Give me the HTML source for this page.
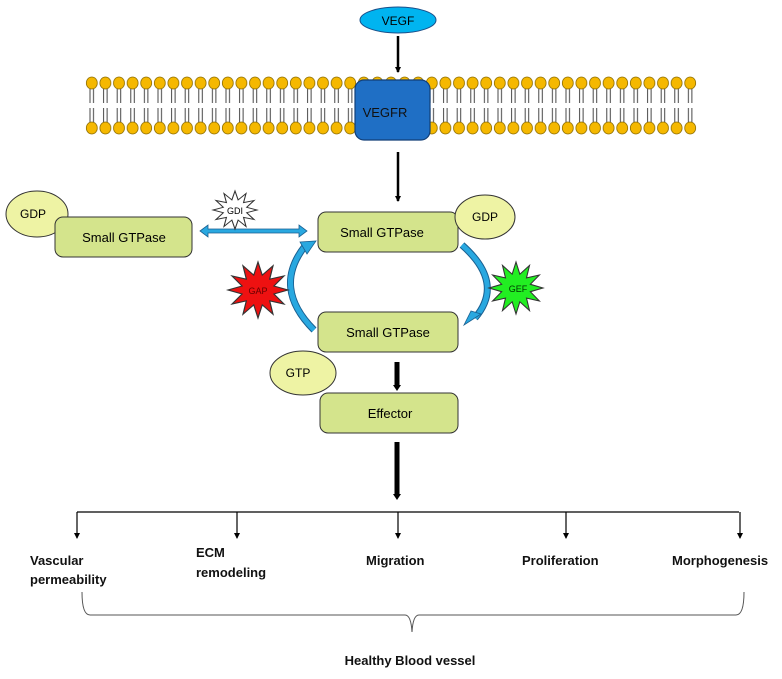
<!DOCTYPE html>
<html><head><style>
html,body{margin:0;padding:0;background:#fff;}
svg{display:block;font-family:"Liberation Sans",sans-serif;}
</style></head><body>
<svg width="782" height="679" viewBox="0 0 782 679" xmlns="http://www.w3.org/2000/svg">
<defs>
<pattern id="lipT" x="85" y="75" width="13.6" height="30" patternUnits="userSpaceOnUse">
<path d="M5 12 L5 28 M8.5 12 L8.5 28" stroke="#333" stroke-width="0.9" fill="none"/>
<ellipse cx="6.8" cy="8" rx="5.5" ry="6" fill="#f5b800" stroke="#8a6a00" stroke-width="0.8"/>
</pattern>
<pattern id="lipB" x="85" y="105" width="13.6" height="30" patternUnits="userSpaceOnUse">
<path d="M5 3 L5 18 M8.5 3 L8.5 18" stroke="#333" stroke-width="0.9" fill="none"/>
<ellipse cx="6.8" cy="23" rx="5.5" ry="6" fill="#f5b800" stroke="#8a6a00" stroke-width="0.8"/>
</pattern>
<polygon id="star" points="1,0 .531,.142 .866,.5 .389,.389 .5,.866 .142,.531 0,1 -.142,.531 -.5,.866 -.389,.389 -.866,.5 -.531,.142 -1,0 -.531,-.142 -.866,-.5 -.389,-.389 -.5,-.866 -.142,-.531 0,-1 .142,-.531 .5,-.866 .389,-.389 .866,-.5 .531,-.142"/>
<marker id="ah" markerWidth="6" markerHeight="6" refX="5" refY="3" orient="auto" markerUnits="userSpaceOnUse"><path d="M0,0 L6,3 L0,6z" fill="#000"/></marker>
</defs>

<!-- VEGF -->
<ellipse cx="398" cy="20" rx="38" ry="13" fill="#00b4f0" stroke="#1a4f8a" stroke-width="1"/>
<text x="398" y="25" font-size="12" text-anchor="middle">VEGF</text>
<line x1="398" y1="36" x2="398" y2="72" stroke="#000" stroke-width="2.5" marker-end="url(#ah)"/>

<!-- membrane -->
<rect x="85" y="75" width="612" height="30" fill="url(#lipT)"/>
<rect x="85" y="105" width="612" height="30" fill="url(#lipB)"/>
<rect x="355" y="80" width="75" height="60" rx="9" fill="#1f6fc5" stroke="#123f78" stroke-width="1.2"/>
<text x="385" y="117" font-size="13" text-anchor="middle" fill="#111">VEGFR</text>
<line x1="398" y1="152" x2="398" y2="201" stroke="#000" stroke-width="2.5" marker-end="url(#ah)"/>

<!-- left GTPase -->
<ellipse cx="37" cy="214" rx="31" ry="23" fill="#eef3a4" stroke="#333"/>
<text x="33" y="218" font-size="12" text-anchor="middle">GDP</text>
<rect x="55" y="217" width="137" height="40" rx="8" fill="#d4e48c" stroke="#333"/>
<text x="124" y="242" font-size="13" text-anchor="middle">Small GTPase</text>

<!-- double arrow -->
<path d="M200,231 L208,225 L208,229 L299,229 L299,225 L307,231 L299,237 L299,233 L208,233 L208,237 Z" fill="#29a8e0" stroke="#1a5f90" stroke-width="0.8"/>
<use href="#star" transform="translate(235,210) scale(22,19)" fill="#fff" stroke="#333" stroke-width="0.05"/>
<text x="235" y="214" font-size="9" text-anchor="middle">GDI</text>

<!-- top center -->
<rect x="318" y="212" width="140" height="40" rx="8" fill="#d4e48c" stroke="#333"/>
<text x="382" y="237" font-size="13" text-anchor="middle">Small GTPase</text>
<ellipse cx="485" cy="217" rx="30" ry="22" fill="#eef3a4" stroke="#333"/>
<text x="485" y="221" font-size="12" text-anchor="middle">GDP</text>

<!-- curved arrows -->
<path d="M314,330 Q272,288 305,246" fill="none" stroke="#1a5f90" stroke-width="7"/>
<path d="M314,330 Q272,288 305,246" fill="none" stroke="#29a8e0" stroke-width="5"/>
<path d="M300,242 L316,241 L307,254 Z" fill="#29a8e0" stroke="#1a5f90" stroke-width="0.8"/>
<path d="M462,245 Q505,283 475,318" fill="none" stroke="#1a5f90" stroke-width="7"/>
<path d="M462,245 Q505,283 475,318" fill="none" stroke="#29a8e0" stroke-width="5"/>
<path d="M481,314 L464,325 L471,311 Z" fill="#29a8e0" stroke="#1a5f90" stroke-width="0.8"/>

<use href="#star" transform="translate(258,290) scale(30,28)" fill="#ee1111" stroke="#333" stroke-width="0.04"/>
<text x="258" y="294" font-size="9" text-anchor="middle" fill="#600">GAP</text>
<use href="#star" transform="translate(516,288) scale(27,26)" fill="#22ee22" stroke="#333" stroke-width="0.04"/>
<text x="518" y="292" font-size="9" text-anchor="middle" fill="#030">GEF</text>

<!-- bottom GTPase -->
<rect x="318" y="312" width="140" height="40" rx="8" fill="#d4e48c" stroke="#333"/>
<text x="388" y="337" font-size="13" text-anchor="middle">Small GTPase</text>
<ellipse cx="303" cy="373" rx="33" ry="22" fill="#eef3a4" stroke="#333"/>
<text x="298" y="377" font-size="12" text-anchor="middle">GTP</text>

<line x1="397" y1="362" x2="397" y2="386" stroke="#000" stroke-width="5"/>
<path d="M393,385 L401,385 L397,391 Z" fill="#000"/>

<rect x="320" y="393" width="138" height="40" rx="8" fill="#d4e48c" stroke="#333"/>
<text x="390" y="418" font-size="13" text-anchor="middle">Effector</text>

<line x1="397" y1="442" x2="397" y2="495" stroke="#000" stroke-width="5"/>
<path d="M393,494 L401,494 L397,500 Z" fill="#000"/>

<!-- branches -->
<line x1="77" y1="512" x2="739" y2="512" stroke="#000" stroke-width="1.2"/>
<g stroke="#000" stroke-width="1.2" marker-end="url(#ah)">
<line x1="77" y1="512" x2="77" y2="538"/>
<line x1="237" y1="512" x2="237" y2="538"/>
<line x1="398" y1="512" x2="398" y2="538"/>
<line x1="566" y1="512" x2="566" y2="538"/>
<line x1="740" y1="512" x2="740" y2="538"/>
</g>
<g font-size="13" font-weight="bold" fill="#111">
<text x="30" y="565">Vascular</text>
<text x="30" y="584">permeability</text>
<text x="196" y="557">ECM</text>
<text x="196" y="577">remodeling</text>
<text x="366" y="565">Migration</text>
<text x="522" y="565">Proliferation</text>
<text x="672" y="565">Morphogenesis</text>
</g>
<path d="M82,592 Q82,615 90,615 L405,615 Q411,615 412,632 Q413,615 419,615 L736,615 Q744,615 744,592" fill="none" stroke="#555" stroke-width="1"/>
<text x="410" y="665" font-size="13" font-weight="bold" text-anchor="middle" fill="#111">Healthy Blood vessel</text>
</svg>
</body></html>
